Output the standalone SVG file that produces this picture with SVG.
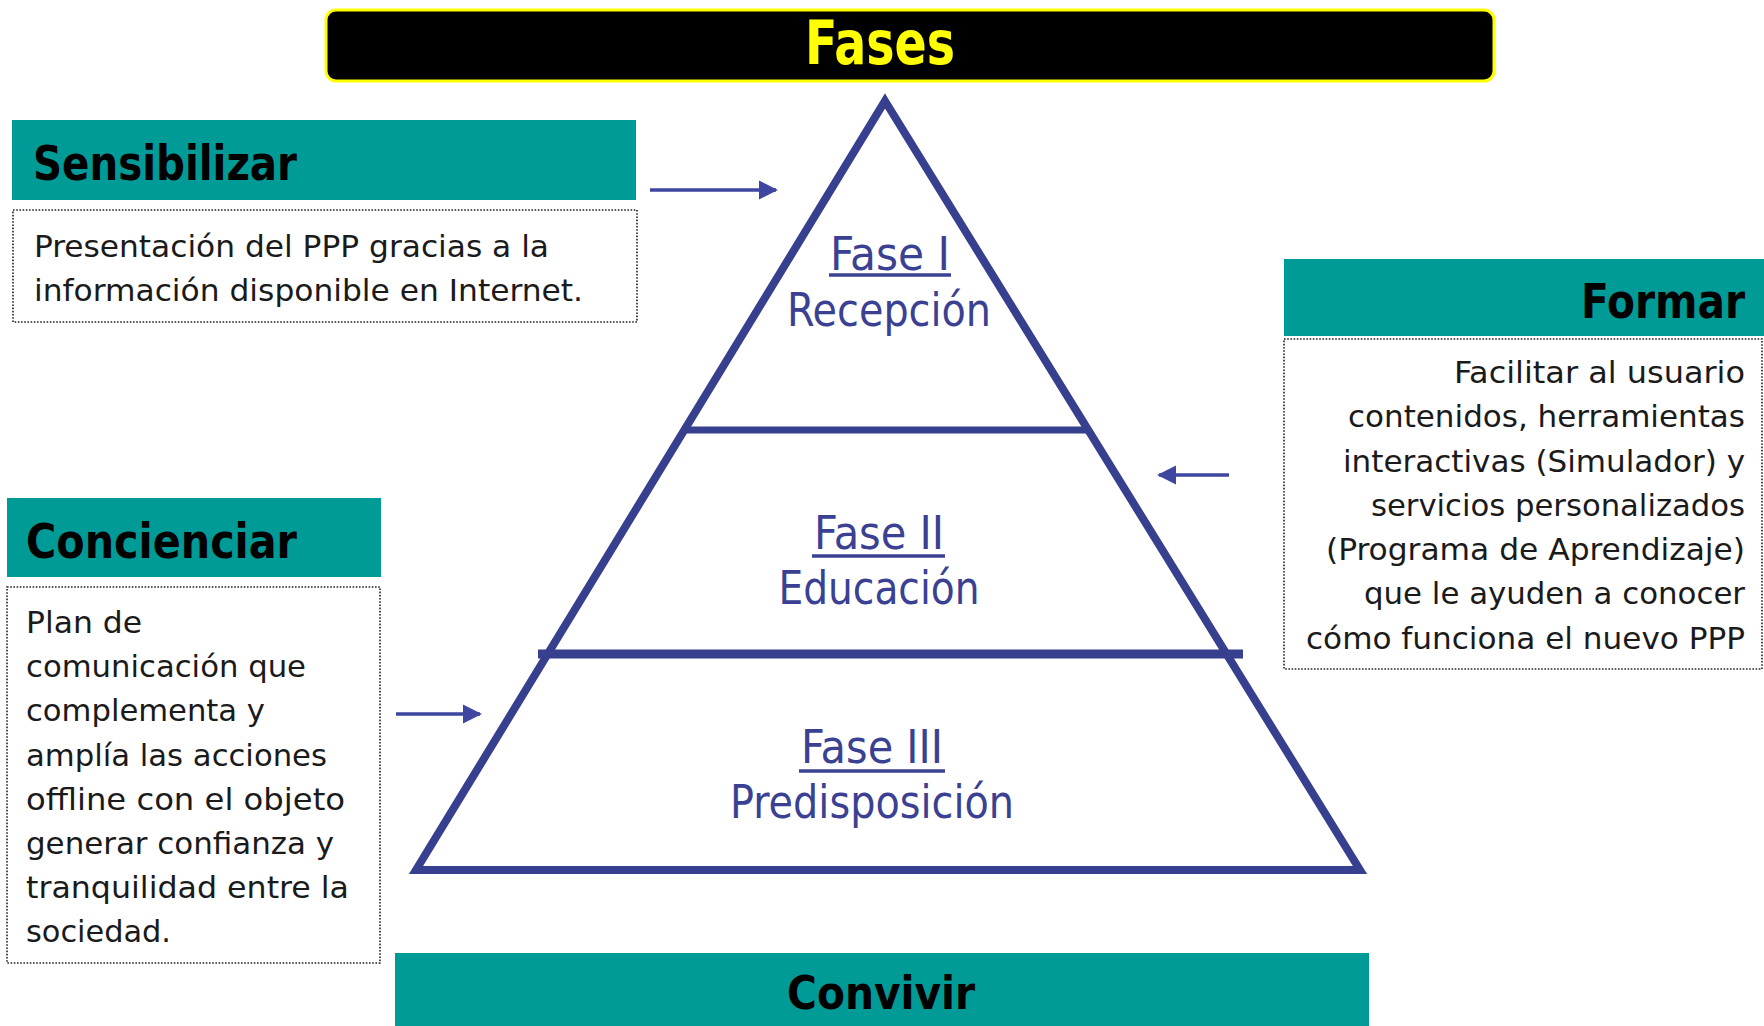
<svg xmlns="http://www.w3.org/2000/svg" width="1764" height="1026" viewBox="0 0 1764 1026">
<style>
.hdr{fill:#009A97}
.box{fill:#fff;stroke:#222;stroke-width:1.6;stroke-dasharray:1.6 1.6}
.ht{font-family:"DejaVu Sans Condensed","DejaVu Sans",sans-serif;font-weight:bold;font-size:48px;fill:#000}
.bt{font-family:"DejaVu Sans Condensed","DejaVu Sans",sans-serif;font-size:31px;fill:#1a1a1a}
.pt{font-family:"DejaVu Sans Condensed","DejaVu Sans",sans-serif;font-size:46px;fill:#3A4193;text-anchor:middle}
.pyr{fill:none;stroke:#373F8F;stroke-width:8}
.arr{stroke:#3F46A0;stroke-width:3.5;fill:none;marker-end:url(#ah)}
</style>
<defs>
<marker id="ah" viewBox="0 0 10 10" refX="9" refY="5" markerWidth="5.5" markerHeight="5.5" orient="auto" markerUnits="strokeWidth">
<path d="M0,0 L10,5 L0,10 z" fill="#3F46A0"/>
</marker>
</defs>
<rect width="1764" height="1026" fill="#fff"/>

<g id="title">
<rect x="326" y="10" width="1168" height="71" rx="10" fill="#000" stroke="#FFFF00" stroke-width="3"/>
<text x="880" y="64" font-family="'DejaVu Sans Condensed','DejaVu Sans',sans-serif" font-weight="bold" font-size="60" fill="#FFFF00" text-anchor="middle" textLength="150" lengthAdjust="spacingAndGlyphs">Fases</text>
</g>

<g id="pyramid">
<polygon class="pyr" points="885,101 1360,870 416,870"/>
<line x1="684" y1="430" x2="1088" y2="430" stroke="#373F8F" stroke-width="7"/>
<line x1="538" y1="654" x2="1243" y2="654" stroke="#373F8F" stroke-width="9"/>
</g>

<g id="fase1">
<text class="pt" x="890" y="270" textLength="120" lengthAdjust="spacingAndGlyphs">Fase I</text>
<line x1="829" y1="275" x2="951" y2="275" stroke="#3A4193" stroke-width="3.5"/>
<text class="pt" x="889" y="326" textLength="204" lengthAdjust="spacingAndGlyphs">Recepción</text>
</g>
<g id="fase2">
<text class="pt" x="879" y="549" textLength="130" lengthAdjust="spacingAndGlyphs">Fase II</text>
<line x1="812" y1="556" x2="945" y2="556" stroke="#3A4193" stroke-width="3.5"/>
<text class="pt" x="879" y="604" textLength="201" lengthAdjust="spacingAndGlyphs">Educación</text>
</g>
<g id="fase3">
<text class="pt" x="872" y="763" textLength="142" lengthAdjust="spacingAndGlyphs">Fase III</text>
<line x1="799" y1="771" x2="945" y2="771" stroke="#3A4193" stroke-width="3.5"/>
<text class="pt" x="872" y="818" textLength="284" lengthAdjust="spacingAndGlyphs">Predisposición</text>
</g>

<g id="sensibilizar">
<rect class="hdr" x="12" y="120" width="624" height="80"/>
<text class="ht" x="33" y="180" textLength="264" lengthAdjust="spacingAndGlyphs">Sensibilizar</text>
<rect class="box" x="13" y="210" width="624" height="112"/>
<text class="bt" x="34" y="257" textLength="515" lengthAdjust="spacingAndGlyphs">Presentación del PPP gracias a la</text>
<text class="bt" x="34" y="301" textLength="549" lengthAdjust="spacingAndGlyphs">información disponible en Internet.</text>
</g>

<g id="formar">
<rect class="hdr" x="1284" y="259" width="480" height="77"/>
<text class="ht" x="1745" y="318" text-anchor="end" textLength="164" lengthAdjust="spacingAndGlyphs">Formar</text>
<rect class="box" x="1284" y="339" width="478" height="330"/>
<g class="bt" text-anchor="end">
<text x="1745" y="383" textLength="291" lengthAdjust="spacingAndGlyphs">Facilitar al usuario</text>
<text x="1745" y="427" textLength="397" lengthAdjust="spacingAndGlyphs">contenidos, herramientas</text>
<text x="1745" y="472" textLength="402" lengthAdjust="spacingAndGlyphs">interactivas (Simulador) y</text>
<text x="1745" y="516" textLength="374" lengthAdjust="spacingAndGlyphs">servicios personalizados</text>
<text x="1745" y="560" textLength="419" lengthAdjust="spacingAndGlyphs">(Programa de Aprendizaje)</text>
<text x="1745" y="604" textLength="381" lengthAdjust="spacingAndGlyphs">que le ayuden a conocer</text>
<text x="1745" y="649" textLength="439" lengthAdjust="spacingAndGlyphs">cómo funciona el nuevo PPP</text>
</g>
</g>

<g id="concienciar">
<rect class="hdr" x="7" y="498" width="374" height="79"/>
<text class="ht" x="26" y="558" textLength="271" lengthAdjust="spacingAndGlyphs">Concienciar</text>
<rect class="box" x="7" y="587" width="373" height="376"/>
<g class="bt">
<text x="26" y="633" textLength="116" lengthAdjust="spacingAndGlyphs">Plan de</text>
<text x="26" y="677" textLength="280" lengthAdjust="spacingAndGlyphs">comunicación que</text>
<text x="26" y="721" textLength="239" lengthAdjust="spacingAndGlyphs">complementa y</text>
<text x="26" y="766" textLength="301" lengthAdjust="spacingAndGlyphs">amplía las acciones</text>
<text x="26" y="810" textLength="319" lengthAdjust="spacingAndGlyphs">offline con el objeto</text>
<text x="26" y="854" textLength="308" lengthAdjust="spacingAndGlyphs">generar confianza y</text>
<text x="26" y="898" textLength="323" lengthAdjust="spacingAndGlyphs">tranquilidad entre la</text>
<text x="26" y="942" textLength="145" lengthAdjust="spacingAndGlyphs">sociedad.</text>
</g>
</g>

<g id="convivir">
<rect class="hdr" x="395" y="953" width="974" height="73"/>
<text x="881" y="1009" font-family="'DejaVu Sans Condensed','DejaVu Sans',sans-serif" font-weight="bold" font-size="46" fill="#000" text-anchor="middle" textLength="188" lengthAdjust="spacingAndGlyphs">Convivir</text>
</g>

<g id="connectors">
<line class="arr" x1="650" y1="190" x2="776" y2="190"/>
<line class="arr" x1="1229" y1="475" x2="1159" y2="475"/>
<line class="arr" x1="396" y1="714" x2="480" y2="714"/>
</g>
</svg>
